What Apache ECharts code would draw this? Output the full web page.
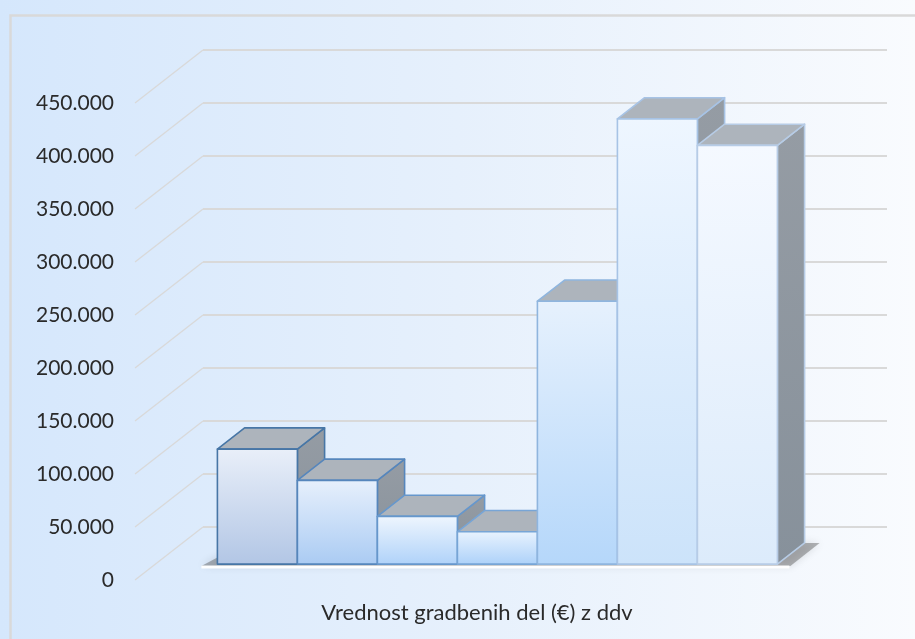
<!DOCTYPE html>
<html>
<head>
<meta charset="utf-8">
<script src="https://cdn.jsdelivr.net/npm/echarts@6/dist/echarts.min.js"></script>
<style>
  html, body { margin: 0; padding: 0; }
  #chart { width: 915px; height: 639px; }
</style>
</head>
<body>
<div id="chart"></div>
<script>
// ---- data ----
const categories = ['1', '2', '3', '4', '5', '6', '7'];
const values = [108500, 79000, 45000, 30500, 248000, 420000, 395000];
const tickValues = [0, 50000, 100000, 150000, 200000, 250000, 300000, 350000, 400000, 450000];
const axisTitle = 'Vrednost gradbenih del (€) z ddv';

// ---- styling ----
const frontTop    = ['#e9eff9', '#e7f0fc', '#eff6fe', '#e9f3fe', '#e6f1fd', '#eef6ff', '#f5f9ff'];
const frontBottom = ['#b2c6e5', '#aacbf3', '#afd2f9', '#acd1f9', '#b5d7fa', '#cce3fa', '#dcebfb'];
const edgeColors  = ['#4776a6', '#5686bc', '#6697cc', '#77a5d6', '#8fb5de', '#a7c3e5', '#b7cce6'];
const topFace = '#adb4bc';
const sideTop = '#959ca4', sideBottom = '#87919b';
const gridColor = '#d9d9d9';
const textColor = '#2a2a2a';

const DX = 68, DY = 53;            // offset from the front plane to the back wall, px
const BAR_FRONT = 0.3, BAR_DEPTH = 0.4;   // bar position / thickness as fractions of depth
const X_PAD = 0.775;               // floor margin either side of the bar block, in bar widths
const X_MIN = -0.5 - X_PAD, X_MAX = categories.length - 0.5 + X_PAD;

const fmt = v => String(v).replace(/\B(?=(\d{3})+(?!\d))/g, '.');

const chart = echarts.init(document.getElementById('chart'));

chart.setOption({
  animation: false,
  backgroundColor: {
    type: 'linear', x: 0, y: 0, x2: 1, y2: 0,
    colorStops: [
      { offset: 0, color: '#d5e7fc' },
      { offset: 0.5, color: '#e6f0fc' },
      { offset: 1, color: '#f9fbfe' }
    ]
  },
  graphic: [{
    type: 'rect', left: 8, top: 13, silent: true,
    shape: { width: 1000, height: 1000 },
    style: { fill: 'none', stroke: '#d9d9d9', lineWidth: 2.5 }
  }],
  grid: { left: 135, right: 96, top: 103, bottom: 59 },
  xAxis: {
    type: 'value', min: X_MIN, max: X_MAX,
    axisLine: { show: false }, axisTick: { show: false },
    axisLabel: { show: false }, splitLine: { show: false },
    name: axisTitle, nameLocation: 'middle', nameGap: 22,
    nameTextStyle: { fontFamily: 'Lato', fontSize: 22, color: textColor }
  },
  yAxis: {
    type: 'value', min: 0, max: 450000, interval: 50000,
    axisLine: { show: false }, axisTick: { show: false },
    splitLine: { show: false },
    axisLabel: {
      formatter: fmt, margin: 21,
      fontFamily: 'Lato', fontSize: 21, color: textColor
    }
  },
  series: [
    // side wall diagonals and back wall gridlines
    {
      type: 'custom', silent: true, z: 1, clip: false,
      data: tickValues.map(v => [0, v]),
      renderItem(params, api) {
        const v = api.value(1);
        const f = api.coord([X_MIN, v]);
        const r = api.coord([X_MAX, v]);
        const bx = f[0] + DX, by = f[1] - DY;
        return {
          type: 'group',
          children: [
            { type: 'line', shape: { x1: f[0], y1: f[1], x2: bx, y2: by },
              style: { stroke: gridColor, lineWidth: 1.3 } },
            { type: 'line', shape: { x1: bx, y1: by, x2: r[0] + DX, y2: by },
              style: { stroke: gridColor, lineWidth: 2 } }
          ]
        };
      }
    },
    // floor shadow under the bar block
    {
      type: 'custom', silent: true, z: 2, clip: false,
      data: [[0, 0]],
      renderItem(params, api) {
        const l = api.coord([-0.5, 0]);
        const r = api.coord([categories.length - 0.5, 0]);
        const ox = DX * BAR_FRONT, oy = DY * BAR_FRONT;
        const dx = DX * BAR_DEPTH, dy = DY * BAR_DEPTH;
        const x0 = l[0] + ox, x1 = r[0] + ox, yb = l[1] - oy;
        return {
          type: 'group',
          children: [
            { type: 'polygon',
              shape: { points: [[x0 - 16, yb + 2], [x1 + 13, yb + 2], [x1 + dx + 15, yb - dy], [x0 + dx, yb - dy]] },
              style: { fill: 'rgba(80,80,80,0.42)', shadowBlur: 9, shadowColor: 'rgba(0,0,0,0.3)' } },
            { type: 'line', shape: { x1: x0 - 16, y1: yb + 3, x2: x1 + 12, y2: yb + 3 },
              style: { stroke: 'rgba(255,255,255,0.95)', lineWidth: 3 } }
          ]
        };
      }
    },
    // columns: side face, top face, front face
    {
      type: 'custom', z: 3, clip: false,
      data: values.map((v, i) => [i, v]),
      renderItem(params, api) {
        const i = api.value(0), v = api.value(1);
        const bl = api.coord([i - 0.5, 0]);
        const tr = api.coord([i + 0.5, v]);
        const ox = DX * BAR_FRONT, oy = DY * BAR_FRONT;
        const x0 = bl[0] + ox, x1 = tr[0] + ox;
        const yb = bl[1] - oy, yt = tr[1] - oy;
        const dx = DX * BAR_DEPTH, dy = DY * BAR_DEPTH;
        const edge = edgeColors[i % edgeColors.length];
        const lw = 1.6;
        return {
          type: 'group',
          children: [
            { type: 'polygon',
              shape: { points: [[x1, yt], [x1 + dx, yt - dy], [x1 + dx, yb - dy], [x1, yb]] },
              style: {
                fill: { type: 'linear', x: 0, y: 0, x2: 0, y2: 1,
                        colorStops: [{ offset: 0, color: sideTop }, { offset: 1, color: sideBottom }] },
                stroke: edge, lineWidth: lw, lineJoin: 'round'
              } },
            { type: 'polygon',
              shape: { points: [[x0, yt], [x1, yt], [x1 + dx, yt - dy], [x0 + dx, yt - dy]] },
              style: { fill: topFace, stroke: edge, lineWidth: lw, lineJoin: 'round' } },
            { type: 'rect',
              shape: { x: x0, y: yt, width: x1 - x0, height: yb - yt },
              style: {
                fill: { type: 'linear', x: 0, y: 0, x2: 0, y2: 1,
                        colorStops: [{ offset: 0, color: frontTop[i] }, { offset: 1, color: frontBottom[i] }] },
                stroke: edge, lineWidth: lw, lineJoin: 'round'
              } }
          ]
        };
      }
    }
  ]
});
</script>
</body>
</html>
